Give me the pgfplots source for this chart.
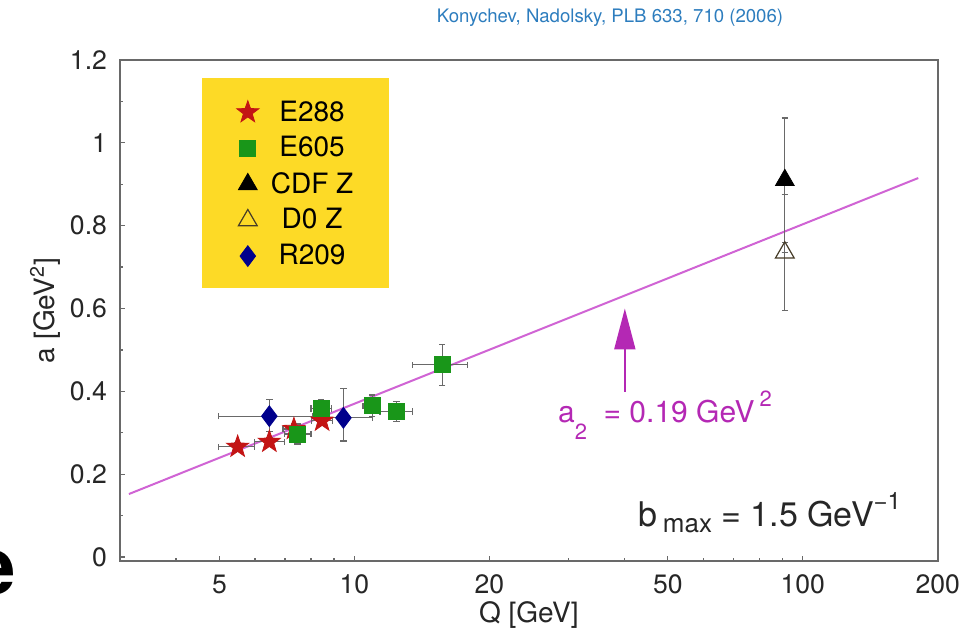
\documentclass[border=0pt]{standalone}
\usepackage{fontspec}
\setmainfont{TeX Gyre Heros}
\usepackage{pgfplots}
\pgfplotsset{compat=1.18}
\usetikzlibrary{arrows.meta}

\definecolor{e288}{RGB}{195,20,20}
\definecolor{e605}{RGB}{25,150,25}
\definecolor{r209}{RGB}{0,0,140}
\definecolor{dzero}{RGB}{70,60,40}
\definecolor{fitline}{RGB}{208,100,212}
\definecolor{fittext}{RGB}{180,40,180}
\definecolor{boxyellow}{RGB}{253,218,38}
\definecolor{refblue}{RGB}{45,125,190}
\definecolor{axisgray}{RGB}{105,105,105}

% filled five-point star
\pgfdeclareplotmark{fstar}{%
  \pgfpathmoveto{\pgfpointpolar{90}{\pgfplotmarksize}}%
  \pgfpathlineto{\pgfpointpolar{126}{0.4*\pgfplotmarksize}}%
  \pgfpathlineto{\pgfpointpolar{162}{\pgfplotmarksize}}%
  \pgfpathlineto{\pgfpointpolar{198}{0.4*\pgfplotmarksize}}%
  \pgfpathlineto{\pgfpointpolar{234}{\pgfplotmarksize}}%
  \pgfpathlineto{\pgfpointpolar{270}{0.4*\pgfplotmarksize}}%
  \pgfpathlineto{\pgfpointpolar{306}{\pgfplotmarksize}}%
  \pgfpathlineto{\pgfpointpolar{342}{0.4*\pgfplotmarksize}}%
  \pgfpathlineto{\pgfpointpolar{18}{\pgfplotmarksize}}%
  \pgfpathlineto{\pgfpointpolar{54}{0.4*\pgfplotmarksize}}%
  \pgfpathclose
  \pgfusepathqfillstroke
}

\pgfplotsset{
  errs/.style={
    error bars/.cd,
    x dir=both, x explicit, y dir=both, y explicit,
    error bar style={axisgray, line width=0.6pt},
    error mark options={rotate=90, mark size=1.6pt, axisgray, line width=0.6pt},
  },
}

% big sub- and superscripts as in the original figure
\newcommand{\lo}[2][-0.55em]{\raisebox{#1}{\fontsize{11}{11}\selectfont #2}}
\newcommand{\hi}[1]{\raisebox{0.55em}{\fontsize{11}{11}\selectfont #1}}

\begin{document}
\begin{tikzpicture}
\useasboundingbox (0,0) rectangle (488.5pt,-316.5pt);

% cropped letter from the slide
\node[anchor=base east, inner sep=0pt, font=\fontsize{40}{40}\bfseries\selectfont] at (8pt,-297pt) {e};

\node[font=\fontsize{9.3}{11}\selectfont, text=refblue] at (305pt,-9pt)
  {Konychev, Nadolsky, PLB 633, 710 (2006)};

\begin{axis}[
  at={(60pt,-280.35pt)}, anchor=south west,
  scale only axis, width=408.85pt, height=250.35pt,
  xmode=log, xmin=3, xmax=200,
  ymin=-0.009, ymax=1.2,
  xtick={5,10,20,50,100,200},
  xticklabels={5,10,20,50,100,200},
  minor xtick={3,4,6,7,8,9,30,40,60,70,80,90},
  ytick={0,0.2,0.4,0.6,0.8,1,1.2},
  minor y tick num=1,
  tick pos=left,
  major tick length=2.6pt, minor tick length=1.6pt,
  tick style={axisgray, line width=0.6pt},
  axis line style={axisgray, line width=0.9pt},
  /pgf/number format/assume math mode=true,
  tick label style={font=\fontsize{13.3}{14}\selectfont, text=black!85},
  xticklabel style={anchor=center, yshift=-12pt},
  yticklabel style={anchor=east, xshift=-3pt},
  xlabel={Q [GeV]},
  ylabel={a [GeV\textsuperscript{2}]},
  label style={font=\fontsize{14}{15}\selectfont, text=black!85},
  xlabel style={at={(rel axis cs:0.5,0)}, anchor=center, yshift=-27pt},
  ylabel style={at={(rel axis cs:0,0.5)}, anchor=center, yshift=37.5pt},
  legend cell align=center,
  legend style={
    at={(axis cs:4.58,1.156)}, anchor=north west,
    xshift=14pt, yshift=-7pt,
    fill=none, draw=none,
    font=\fontsize{14}{15}\selectfont,
    row sep=2.2pt, column sep=4pt,
  },
  clip=false,
]

% legend background
\fill[boxyellow] (axis cs:4.58,1.156) rectangle (axis cs:11.97,0.649);

% fit, a2 = 0.19 GeV^2
\addplot[fitline, line width=1pt, forget plot] coordinates {(3.14,0.152) (181,0.915)};

% E288
\addplot[only marks, mark=fstar, mark size=5.8pt, color=e288, fill=e288, errs]
coordinates {
  (5.49,0.266) += (0.49,0.010) -= (0.51,0.010)
  (6.46,0.278) += (0.52,0.010) -= (0.48,0.010)
  (7.33,0.309) += (0.40,0.012) -= (0.40,0.012)
  (8.47,0.329) += (0.45,0.012) -= (0.45,0.012)
};
\addlegendentry{E288}

% E605
\addplot[only marks, mark=square*, mark size=4pt, color=e605, fill=e605, errs]
coordinates {
  (7.47,0.297) += (0.53,0.024) -= (0.49,0.024)
  (8.43,0.359) += (0.47,0.020) -= (0.43,0.020)
  (10.95,0.365) += (0.50,0.026) -= (0.50,0.026)
  (12.4,0.351) += (1.10,0.024) -= (1.00,0.024)
  (15.7,0.464) += (2.20,0.050) -= (2.20,0.050)
};
\addlegendentry{E605}

% CDF Z
\addplot[only marks, mark=triangle*, mark size=5.4pt, color=black, fill=black, errs]
coordinates {
  (91.2,0.910) += (0,0.150) -= (0,0.150)
};
\addlegendentry{CDF Z}

% D0 Z
\addplot[only marks, mark=triangle, mark size=5.4pt, color=dzero, mark options={line width=0.6pt}, errs]
coordinates {
  (91.2,0.735) += (0,0.140) -= (0,0.140)
};
\addlegendentry{D0 Z}

% R209
\addplot[only marks, mark=diamond*, mark size=5.2pt, color=r209, fill=r209, errs]
coordinates {
  (6.46,0.340) += (1.61,0.041) -= (1.48,0.037)
  (9.45,0.336) += (1.50,0.071) -= (1.31,0.056)
};
\addlegendentry{R209}

\draw[fittext, line width=1pt, -{Triangle[width=10.5pt,length=20.5pt]}]
  (axis cs:40.1,0.399) -- (axis cs:40.1,0.600);
\node[anchor=base west, inner sep=0pt, text=fittext, font=\fontsize{15}{16}\selectfont]
  at (axis cs:28.4,0.324)
  {a\lo{2}\ \ =\ 0.19 GeV\,\hi{2}};
\node[anchor=base west, inner sep=0pt, text=black!85, font=\fontsize{17}{18}\selectfont]
  at (axis cs:42.9,0.073)
  {b\,\lo[-0.16em]{\fontsize{13}{14}\selectfont max} = 1.5 GeV\raisebox{0.5em}{\fontsize{12}{13}\selectfont −1}};

\end{axis}
\end{tikzpicture}
\end{document}
